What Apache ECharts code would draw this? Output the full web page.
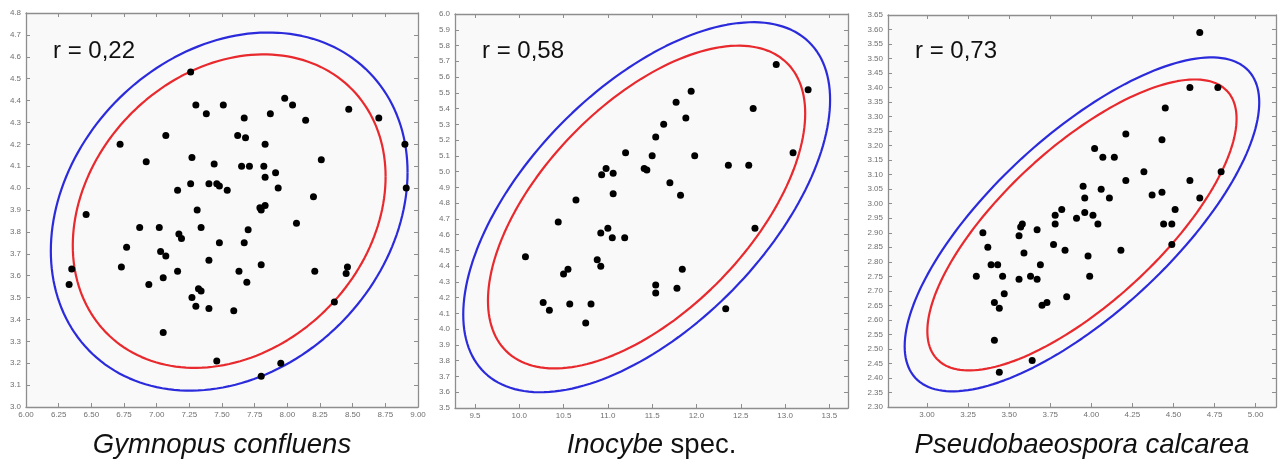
<!DOCTYPE html>
<html>
<head>
<meta charset="utf-8">
<script src="https://cdn.jsdelivr.net/npm/echarts@6/dist/echarts.min.js"></script>
<style>
html,body{margin:0;padding:0;background:#ffffff;}
#c{width:1282px;height:466px;}
</style>
</head>
<body>
<div id="c"></div>
<script>
// ---------- data ----------
const speciesNames = ['Gymnopus confluens', 'Inocybe spec.', 'Pseudobaeospora calcarea'];
const rValues = [0.22, 0.58, 0.73];
const rLabels = ['r = 0,22', 'r = 0,58', 'r = 0,73'];

const gymnopusPoints = [
 [7.26,4.53],[7.30,4.38],[7.38,4.34],[7.51,4.38],[7.67,4.32],[7.87,4.34],[7.98,4.41],[8.04,4.38],[8.14,4.31],[8.47,4.36],
 [8.70,4.32],[8.90,4.20],[8.91,4.00],[6.72,4.20],[7.07,4.24],[7.62,4.24],[7.68,4.23],[7.83,4.20],[6.92,4.12],[7.27,4.14],
 [7.44,4.11],[7.65,4.10],[7.71,4.10],[7.82,4.10],[8.26,4.13],[7.91,4.07],[7.83,4.05],[7.26,4.02],[7.40,4.02],[7.46,4.02],
 [7.48,4.01],[7.16,3.99],[7.54,3.99],[7.93,4.00],[8.20,3.96],[7.31,3.90],[7.79,3.91],[7.83,3.92],[7.80,3.90],[6.46,3.88],
 [8.07,3.84],[6.87,3.82],[7.02,3.82],[7.34,3.82],[7.70,3.81],[7.17,3.79],[7.19,3.77],[7.48,3.75],[7.67,3.75],[6.77,3.73],
 [7.03,3.71],[7.07,3.69],[7.40,3.67],[6.73,3.64],[7.80,3.65],[8.46,3.64],[8.45,3.61],[6.35,3.63],[7.16,3.62],[7.63,3.62],
 [8.21,3.62],[7.05,3.59],[7.69,3.57],[6.33,3.56],[6.94,3.56],[7.32,3.54],[7.34,3.53],[7.27,3.50],[8.36,3.48],[7.30,3.46],
 [7.40,3.45],[7.59,3.44],[7.05,3.34],[7.46,3.21],[7.95,3.20],[7.80,3.14]
];
const inocybePoints = [
 [12.90,5.68],[13.26,5.52],[11.94,5.51],[11.77,5.44],[12.64,5.40],[11.88,5.34],[11.63,5.30],[11.54,5.22],[11.20,5.12],[11.50,5.10],
 [11.98,5.10],[13.09,5.12],[12.36,5.04],[12.59,5.04],[10.98,5.02],[11.41,5.02],[11.44,5.01],[10.93,4.98],[11.06,4.99],[11.70,4.93],
 [11.06,4.86],[11.82,4.85],[10.64,4.82],[10.44,4.68],[11.00,4.64],[12.66,4.64],[10.92,4.61],[11.05,4.58],[11.19,4.58],[10.07,4.46],
 [10.88,4.44],[10.92,4.40],[10.55,4.38],[10.50,4.35],[11.84,4.38],[11.54,4.28],[11.54,4.23],[11.78,4.26],[10.27,4.17],[10.34,4.12],
 [10.57,4.16],[10.81,4.16],[10.75,4.04],[12.33,4.13]
];
const pseudoPoints = [
 [4.66,3.59],[4.60,3.40],[4.77,3.40],[4.45,3.33],[4.43,3.22],[4.21,3.24],[4.02,3.19],[4.07,3.16],[4.14,3.16],[4.32,3.11],
 [4.79,3.11],[4.21,3.08],[4.60,3.08],[3.95,3.06],[4.06,3.05],[4.43,3.04],[4.37,3.03],[3.96,3.02],[4.11,3.02],[4.66,3.02],
 [3.96,2.97],[3.82,2.98],[3.78,2.96],[4.01,2.96],[3.91,2.95],[4.51,2.98],[3.78,2.93],[4.04,2.93],[4.44,2.93],[4.49,2.93],
 [3.57,2.92],[3.58,2.93],[3.67,2.91],[3.34,2.90],[3.56,2.89],[3.37,2.85],[3.77,2.86],[3.59,2.83],[3.84,2.84],[4.18,2.84],
 [4.49,2.86],[3.98,2.82],[3.39,2.79],[3.43,2.79],[3.69,2.79],[3.30,2.75],[3.46,2.75],[3.63,2.75],[3.99,2.75],[3.56,2.74],
 [3.67,2.74],[3.47,2.69],[3.85,2.68],[3.41,2.66],[3.73,2.66],[3.70,2.65],[3.44,2.64],[3.41,2.53],[3.64,2.46],[3.44,2.42]
];
const panelPoints = [gymnopusPoints, inocybePoints, pseudoPoints];

// ellipse parameters: [centerX, centerY, halfWidthX, halfHeightY]
const redEllipses  = [[7.555, 3.895, 1.197, 0.716], [11.437, 4.775, 1.79, 1.024], [3.943, 2.927, 0.941, 0.501]];
const blueEllipses = [[7.555, 3.893, 1.365, 0.818], [11.438, 4.774, 2.07, 1.174], [3.943, 2.929, 1.079, 0.575]];

// axis ranges and tick labels
const xRanges = [[6, 9], [9.275, 13.71], [2.7625, 5.124]];
const yRanges = [[3.0, 4.8], [3.5, 6.0], [2.30, 3.65]];
const xTicks = [
 [6.00,6.25,6.50,6.75,7.00,7.25,7.50,7.75,8.00,8.25,8.50,8.75,9.00],
 [9.5,10.0,10.5,11.0,11.5,12.0,12.5,13.0,13.5],
 [3.00,3.25,3.50,3.75,4.00,4.25,4.50,4.75,5.00]
];
const yTicks = [
 [3.0,3.1,3.2,3.3,3.4,3.5,3.6,3.7,3.8,3.9,4.0,4.1,4.2,4.3,4.4,4.5,4.6,4.7,4.8],
 [3.5,3.6,3.7,3.8,3.9,4.0,4.1,4.2,4.3,4.4,4.5,4.6,4.7,4.8,4.9,5.0,5.1,5.2,5.3,5.4,5.5,5.6,5.7,5.8,5.9,6.0],
 [2.30,2.35,2.40,2.45,2.50,2.55,2.60,2.65,2.70,2.75,2.80,2.85,2.90,2.95,3.00,3.05,3.10,3.15,3.20,3.25,3.30,3.35,3.40,3.45,3.50,3.55,3.60,3.65]
];
const xDecimals = [2, 1, 2];
const yDecimals = [1, 1, 2];

// ---------- layout ----------
const grids = [
 {left: 26, top: 13, width: 392, height: 394},
 {left: 455, top: 14, width: 393, height: 394},
 {left: 888, top: 15, width: 388, height: 392}
];

function ellipsePath(p, r) {
  const [cx, cy, ax, ay] = p;
  const th = Math.acos(r);
  const pts = [];
  const n = 180;
  for (let i = 0; i <= n; i++) {
    const t = 2 * Math.PI * i / n;
    pts.push([cx + ax * Math.cos(t), cy + ay * Math.cos(t - th)]);
  }
  return pts;
}

const axisLineStyle = {show: true, lineStyle: {color: '#8e8e8e', width: 1.3}};
const labelStyle = {fontSize: 8, color: '#707070', fontFamily: 'Liberation Sans'};

const xAxis = [], yAxis = [], series = [], graphic = [];
for (let i = 0; i < 3; i++) {
  const xd = xDecimals[i], yd = yDecimals[i];
  ['bottom', 'top'].forEach((pos, k) => {
    xAxis.push({
      gridIndex: i, type: 'value', position: pos,
      min: xRanges[i][0], max: xRanges[i][1],
      axisLine: axisLineStyle,
      axisTick: {show: true, inside: true, length: 4, customValues: xTicks[i], lineStyle: {color: '#8e8e8e', width: 1}},
      axisLabel: k === 0 ? Object.assign({show: true, margin: 4, customValues: xTicks[i], formatter: v => v.toFixed(xd)}, labelStyle) : {show: false},
      splitLine: {show: false}
    });
  });
  ['left', 'right'].forEach((pos, k) => {
    yAxis.push({
      gridIndex: i, type: 'value', position: pos,
      min: yRanges[i][0], max: yRanges[i][1],
      axisLine: axisLineStyle,
      axisTick: {show: true, inside: true, length: 4, customValues: yTicks[i], lineStyle: {color: '#8e8e8e', width: 1}},
      axisLabel: k === 0 ? Object.assign({show: true, margin: 5, customValues: yTicks[i], formatter: v => v.toFixed(yd)}, labelStyle) : {show: false},
      splitLine: {show: false}
    });
  });
  series.push({
    type: 'line', xAxisIndex: 2 * i, yAxisIndex: 2 * i,
    data: ellipsePath(blueEllipses[i], rValues[i]),
    showSymbol: false, smooth: false, silent: true, z: 2,
    lineStyle: {color: '#2b2bdc', width: 2.2}
  });
  series.push({
    type: 'line', xAxisIndex: 2 * i, yAxisIndex: 2 * i,
    data: ellipsePath(redEllipses[i], rValues[i]),
    showSymbol: false, smooth: false, silent: true, z: 2,
    lineStyle: {color: '#e8292d', width: 2.2}
  });
  series.push({
    type: 'scatter', xAxisIndex: 2 * i, yAxisIndex: 2 * i,
    data: panelPoints[i], symbolSize: 7, z: 5,
    itemStyle: {color: '#000000', opacity: 1}
  });
  const g = grids[i];
  graphic.push({
    type: 'text', x: g.left + 27, y: 39, z: 10,
    style: {text: rLabels[i], fontSize: 24, fontFamily: 'Liberation Sans', fill: '#111', textAlign: 'left', textVerticalAlign: 'top'}
  });
  const cxp = g.left + g.width / 2;
  if (i === 1) {
    graphic.push({
      type: 'text', x: cxp, y: 445, z: 10,
      style: {
        text: '{i|Inocybe} spec.', fontSize: 27.5, fontFamily: 'Liberation Sans', fill: '#111',
        textAlign: 'center', textVerticalAlign: 'middle',
        rich: {i: {fontStyle: 'italic', fontSize: 27.5, fontFamily: 'Liberation Sans', fill: '#111'}}
      }
    });
  } else {
    graphic.push({
      type: 'text', x: cxp, y: 445, z: 10,
      style: {text: speciesNames[i], fontSize: 27.5, fontStyle: 'italic', fontFamily: 'Liberation Sans', fill: '#111', textAlign: 'center', textVerticalAlign: 'middle'}
    });
  }
}

const chart = echarts.init(document.getElementById('c'), null, {renderer: 'canvas'});
chart.setOption({
  backgroundColor: '#ffffff',
  animation: false,
  grid: grids.map(g => Object.assign({show: true, backgroundColor: '#f9f9f9', borderWidth: 0}, g)),
  xAxis, yAxis, series, graphic
});
</script>
</body>
</html>
